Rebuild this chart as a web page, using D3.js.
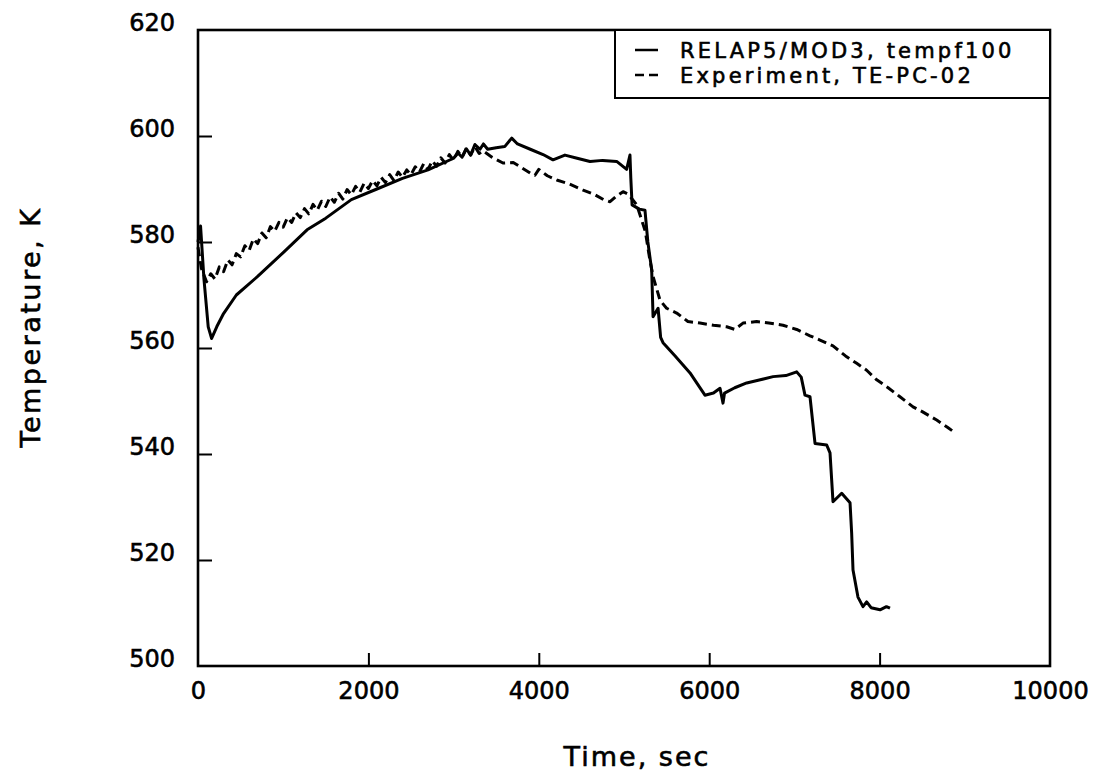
<!DOCTYPE html>
<html>
<head>
<meta charset="utf-8">
<script src="https://cdn.jsdelivr.net/npm/d3@7/dist/d3.min.js"></script>
<style>
  html, body { margin: 0; padding: 0; background: #fff; }
  svg { display: block; }
  text { font-family: "DejaVu Sans", sans-serif; fill: #000; stroke: #000; stroke-width: 0.6px; }
</style>
</head>
<body>
<svg id="chart" width="1093" height="775"></svg>
<script>
// RELAP5/MOD3 calculation, tempf100: time (s) and temperature (K)
const relapTime = [0, 30, 70, 120, 160, 220, 300, 450, 700, 1000, 1280, 1500, 1800, 2100, 2400, 2700, 3000,
  3050, 3100, 3150, 3200, 3250, 3310, 3350, 3400, 3500, 3600, 3682, 3750, 3900, 4050, 4167, 4307, 4450, 4601,
  4750, 4914, 5031, 5070, 5080, 5095, 5180, 5246, 5280, 5325, 5341, 5400, 5430, 5458, 5600, 5775, 5950, 6050,
  6127, 6162, 6180, 6300, 6440, 6600, 6750, 6900, 7027, 7080, 7124, 7183, 7242, 7379, 7418, 7453, 7555, 7653,
  7672, 7688, 7746, 7805, 7848, 7900, 8005, 8080, 8122];
const relapTemp = [580, 583, 573, 564, 561.8, 564, 566.5, 570, 573.5, 578, 582.3, 584.5, 588, 590, 592, 593.6, 595.8,
  596.8, 596, 597.6, 596.4, 598.4, 597.5, 598.5, 597.5, 597.8, 598, 599.6, 598.5, 597.5, 596.5, 595.5, 596.4, 595.8, 595.2,
  595.4, 595.2, 593.7, 596.4, 592, 587, 586.2, 586, 580, 574.7, 565.9, 567.5, 562, 561, 558.5, 555.3, 551.1, 551.5,
  552.4, 549.6, 551.5, 552.5, 553.4, 554, 554.6, 554.8, 555.5, 554.5, 551.1, 550.8, 542, 541.7, 540.2, 531, 532.6, 530.8,
  525.1, 518.1, 513, 511.2, 512.1, 511, 510.6, 511.2, 510.9];

// Experiment, TE-PC-02: time (s) and temperature (K)
const expTime = [0, 40, 100, 150, 200, 250, 300, 350, 400, 450, 500, 550, 600, 650, 700, 750, 800, 850, 900, 950,
  1000, 1050, 1100, 1150, 1200, 1250, 1300, 1350, 1400, 1450, 1500, 1550, 1600, 1650, 1700, 1750, 1800, 1850,
  1900, 1950, 2000, 2050, 2100, 2150, 2200, 2250, 2300, 2350, 2400, 2450, 2500, 2550, 2600, 2650, 2700, 2750,
  2800, 2850, 2900, 2950, 3000, 3050, 3100, 3150, 3200, 3250, 3300, 3345, 3450, 3580, 3700, 3800, 3900, 3955,
  4000, 4100, 4210, 4350, 4520, 4650, 4760, 4836, 4900, 4989, 5050, 5090, 5150, 5250, 5300, 5341, 5423, 5500,
  5618, 5750, 5892, 6050, 6205, 6300, 6397, 6557, 6700, 6866, 7027, 7183, 7300, 7453, 7600, 7731, 7848, 7966,
  8100, 8239, 8392, 8500, 8670, 8800, 8885];
const expTemp = [579, 575, 572.5, 574.0, 573.0, 575.3, 574.4, 576.6, 575.7, 577.8, 577.2, 579.3, 578.4, 580.6, 579.7, 581.7, 580.8, 582.9, 582.0, 583.7,
  582.8, 584.6, 583.7, 585.5, 584.6, 586.3, 585.3, 587.1, 586.0, 587.7, 586.7, 588.5, 587.5, 589.2, 588.1, 589.9, 588.9, 590.5,
  589.4, 591.1, 590.1, 591.6, 590.6, 592.2, 591.2, 592.7, 591.6, 593.2, 592.2, 593.6, 592.7, 594.2, 593.2, 594.8, 593.7, 595.3,
  594.3, 595.9, 594.9, 596.5, 595.4, 597.1, 596.0, 597.7, 596.4, 598.0, 596.7, 597.2, 596, 594.9, 595, 594, 593, 592.6,
  593.7, 592.5, 591.7, 591, 589.8, 589, 588, 587.6, 588.5, 589.5, 589, 588.2, 587, 582, 577, 573.5, 569, 567.5,
  566.6, 565, 564.7, 564.3, 564, 563.5, 564.7, 565, 564.7, 564.3, 563.5, 562.3, 561.5, 560.4, 558.5, 557.1, 555.8, 554,
  552.5, 550.8, 548.9, 548, 546.4, 545, 544];

const xTicks = [0, 2000, 4000, 6000, 8000, 10000];
const yTicks = [500, 520, 540, 560, 580, 600, 620];
const legendLabels = ["RELAP5/MOD3, tempf100", "Experiment, TE-PC-02"];

const svg = d3.select("#chart");
const plotLeft = 198, plotRight = 1050, plotTop = 30, plotBottom = 666;

const x = d3.scaleLinear().domain([0, 10000]).range([plotLeft, plotRight]);
const y = d3.scaleLinear().domain([500, 620]).range([plotBottom, plotTop]);

// plot frame
svg.append("rect")
  .attr("x", plotLeft).attr("y", plotTop)
  .attr("width", plotRight - plotLeft).attr("height", plotBottom - plotTop)
  .attr("fill", "none").attr("stroke", "#000").attr("stroke-width", 2.6);

// x axis: inward ticks on the bottom edge, labels below
const xAxis = d3.axisBottom(x).tickValues(xTicks).tickSize(-13).tickPadding(0).tickFormat(d3.format("d"));
const gx = svg.append("g").attr("transform", `translate(0,${plotBottom})`).call(xAxis);
gx.select(".domain").remove();
gx.selectAll(".tick line").attr("stroke", "#000").attr("stroke-width", 2)
  .filter(d => d === 0 || d === 10000).remove();
gx.selectAll(".tick text")
  .attr("y", 33).attr("dy", null).attr("stroke", "#000").attr("stroke-width", 0.6)
  .style("font-size", "24px").style("font-family", "DejaVu Sans, sans-serif");

// y axis: inward ticks on the left edge, labels sit just above their tick
const yAxis = d3.axisLeft(y).tickValues(yTicks).tickSize(-14).tickPadding(0).tickFormat(d3.format("d"));
const gy = svg.append("g").attr("transform", `translate(${plotLeft},0)`).call(yAxis);
gy.select(".domain").remove();
gy.selectAll(".tick line").attr("stroke", "#000").attr("stroke-width", 2)
  .filter(d => d === 500 || d === 620).remove();
gy.selectAll(".tick text")
  .attr("x", -23).attr("dy", "0").attr("stroke", "#000").attr("stroke-width", 0.6)
  .style("font-size", "24px").style("font-family", "DejaVu Sans, sans-serif");

// axis titles
svg.append("text")
  .attr("x", 637).attr("y", 766)
  .attr("text-anchor", "middle")
  .style("font-size", "27px").style("letter-spacing", "2px")
  .text("Time, sec");

svg.append("text")
  .attr("transform", "translate(40,327) rotate(-90)")
  .attr("text-anchor", "middle")
  .style("font-size", "27px").style("letter-spacing", "2.5px")
  .text("Temperature, K");

// data curves
const line = d3.line().x(d => x(d[0])).y(d => y(d[1]));
const relap = relapTime.map((t, i) => [t, relapTemp[i]]);
const expt = expTime.map((t, i) => [t, expTemp[i]]);

svg.append("path").datum(expt)
  .attr("d", line).attr("fill", "none")
  .attr("stroke", "#000").attr("stroke-width", 3)
  .attr("stroke-dasharray", "9,5").attr("stroke-linejoin", "round");

svg.append("path").datum(relap)
  .attr("d", line).attr("fill", "none")
  .attr("stroke", "#000").attr("stroke-width", 3)
  .attr("stroke-linejoin", "round");

// legend box
const lg = svg.append("g");
lg.append("rect")
  .attr("x", 615).attr("y", plotTop)
  .attr("width", plotRight - 615).attr("height", 68)
  .attr("fill", "#fff").attr("stroke", "#000").attr("stroke-width", 2);

const rows = [{ label: legendLabels[0], dash: null, yy: 50 }, { label: legendLabels[1], dash: "9,5", yy: 75 }];
rows.forEach(r => {
  lg.append("line")
    .attr("x1", 635).attr("x2", 658).attr("y1", r.yy).attr("y2", r.yy)
    .attr("stroke", "#000").attr("stroke-width", 2.5)
    .attr("stroke-dasharray", r.dash);
  lg.append("text")
    .attr("x", 680).attr("y", r.yy + 8)
    .style("font-size", "21px").style("letter-spacing", "3.2px")
    .text(r.label);
});
</script>
</body>
</html>
